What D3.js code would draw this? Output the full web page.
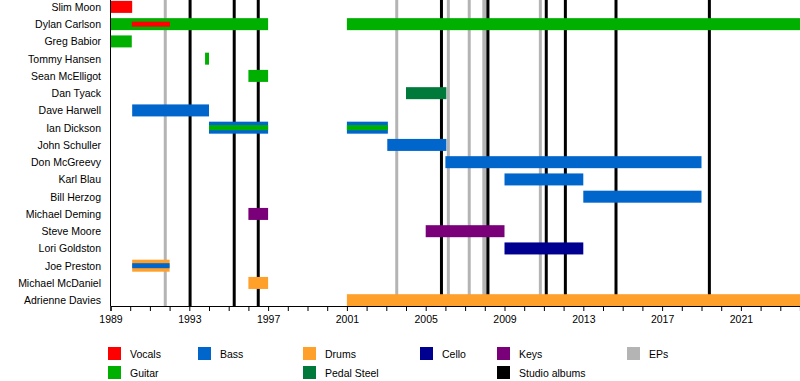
<!DOCTYPE html>
<html><head><meta charset="utf-8">
<script src="https://cdn.jsdelivr.net/npm/d3@7"></script>
<style>body{margin:0;background:#fff}svg{display:block}text{font-family:"Liberation Sans",Arial,sans-serif}</style>
</head><body><svg id="c" width="800" height="381"></svg>
<script>
const members = ["Slim Moon","Dylan Carlson","Greg Babior","Tommy Hansen","Sean McElligot","Dan Tyack","Dave Harwell","Ian Dickson","John Schuller","Don McGreevy","Karl Blau","Bill Herzog","Michael Deming","Steve Moore","Lori Goldston","Joe Preston","Michael McDaniel","Adrienne Davies"];
const roles = ["Vocals","Guitar","Bass","Pedal Steel","Drums","Cello","Keys"];
const roleColors = ["#ff0000","#00b000","#0066cc","#007a3a","#ffa02a","#000090","#7a007a"];
// main bars
const barMember = ["Slim Moon","Dylan Carlson","Dylan Carlson","Greg Babior","Tommy Hansen","Sean McElligot","Dan Tyack","Dave Harwell","Ian Dickson","Ian Dickson","John Schuller","Don McGreevy","Karl Blau","Bill Herzog","Michael Deming","Steve Moore","Lori Goldston","Joe Preston","Michael McDaniel","Adrienne Davies"];
const barRole = ["Vocals","Guitar","Guitar","Guitar","Guitar","Guitar","Pedal Steel","Bass","Bass","Bass","Bass","Bass","Bass","Bass","Keys","Keys","Cello","Drums","Drums","Drums"];
const barStart = [1989.0,1989.0,2001.0,1989.0,1993.8,1996.0,2004.0,1990.1,1994.0,2001.0,2003.05,2006.0,2009.0,2013.0,1996.0,2005.0,2009.0,1990.1,1996.0,2001.0];
const barEnd = [1990.1,1997.0,2024.0,1990.08,1994.0,1997.0,2006.05,1994.0,1997.0,2003.08,2006.05,2019.0,2013.0,2019.0,1997.0,2009.0,2013.0,1992.0,1997.0,2024.0];
// secondary (thin) bars
const subMember = ["Dylan Carlson","Ian Dickson","Ian Dickson","Joe Preston"];
const subRole = ["Vocals","Guitar","Guitar","Bass"];
const subStart = [1990.08,1994.0,2001.0,1990.1];
const subEnd = [1992.02,1997.0,2003.08,1992.0];
// releases
const albumYears = [1993.04,1995.28,1996.5,2005.8,2008.16,2011.12,2012.09,2014.66,2019.4];
const epYears = [1991.78,2003.53,2006.15,2007.21,2007.95,2008.05,2010.82];
const tickYears = d3.range(1989,2024,4);
const legendItems = ["Vocals","Guitar","Bass","Drums","Pedal Steel","Cello","Keys","Studio albums","EPs"];
const legendColors = ["#ff0000","#00b000","#0066cc","#ffa02a","#007a3a","#000090","#7a007a","#000000","#b4b4b4"];

const svg = d3.select("#c");
const x = d3.scaleLinear().domain([1989,2024]).range([110.5,800]);
const y = d3.scalePoint().domain(members).range([6.9,300.2]);
const color = d3.scaleOrdinal().domain(roles).range(roleColors);
const axisY = 306;
const barH = 12;

// release lines
svg.append("g").selectAll("line").data(epYears).join("line")
  .attr("x1",d=>x(d)).attr("x2",d=>x(d)).attr("y1",0).attr("y2",axisY)
  .attr("stroke","#b4b4b4").attr("stroke-width",3);
svg.append("g").selectAll("line").data(albumYears).join("line")
  .attr("x1",d=>x(d)).attr("x2",d=>x(d)).attr("y1",0).attr("y2",axisY)
  .attr("stroke","#000").attr("stroke-width",3);

// bars
const bars = barMember.map((m,i)=>({m,r:barRole[i],s:barStart[i],e:barEnd[i]}));
svg.append("g").selectAll("rect").data(bars).join("rect")
  .attr("x",d=>x(d.s)).attr("width",d=>x(d.e)-x(d.s))
  .attr("y",d=>y(d.m)-barH/2).attr("height",barH)
  .attr("fill",d=>color(d.r));
const subs = subMember.map((m,i)=>({m,r:subRole[i],s:subStart[i],e:subEnd[i]}));
svg.append("g").selectAll("rect").data(subs).join("rect")
  .attr("x",d=>x(d.s)).attr("width",d=>x(d.e)-x(d.s))
  .attr("y",d=>y(d.m)-2.5).attr("height",5)
  .attr("fill",d=>color(d.r));

// member labels
svg.append("g").selectAll("text").data(members).join("text")
  .attr("x",101).attr("y",d=>y(d)+4).attr("text-anchor","end")
  .attr("font-size",10.5).attr("fill","#000").text(d=>d);

// left line
svg.append("line").attr("x1",110.5).attr("x2",110.5).attr("y1",0).attr("y2",axisY).attr("stroke","#000").attr("stroke-width",1);

// axis
const ax = svg.append("g").attr("transform",`translate(0,${axisY})`)
  .call(d3.axisBottom(x).tickValues(d3.range(1989,2025,1)).tickSize(5).tickFormat(d=>tickYears.includes(d)?d:""));
ax.select(".domain").attr("stroke","#000").attr("stroke-width",1.2);
ax.selectAll(".tick line").attr("stroke","#000");
ax.selectAll(".tick text").attr("font-size",10.5).attr("font-family","Liberation Sans, Arial, sans-serif").attr("fill","#000").attr("dy","0.9em");

// legend
const legX = [108,108,198,303,303,420,497,497,627];
const legRow = [0,1,0,0,1,0,0,1,0];
const lg = svg.append("g");
legendItems.forEach((t,i)=>{
  const yy = 347 + legRow[i]*19;
  lg.append("rect").attr("x",legX[i]).attr("y",yy).attr("width",13).attr("height",13).attr("fill",legendColors[i]);
  lg.append("text").attr("x",legX[i]+22).attr("y",yy+10.5).attr("font-size",10.5).attr("fill","#000").text(t);
});
</script></body></html>
